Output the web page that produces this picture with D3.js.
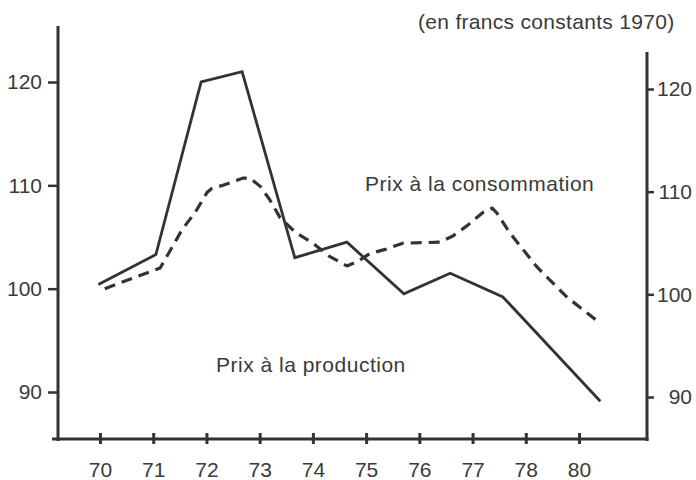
<!DOCTYPE html>
<html><head><meta charset="utf-8">
<script src="https://cdn.jsdelivr.net/npm/d3@7/dist/d3.min.js"></script>
<style>
html,body{margin:0;padding:0;background:#fff;}
text{font-family:"Liberation Sans",Arial,Helvetica,sans-serif;fill:#3a3a3a;}
</style></head>
<body><svg id="c" width="696" height="480"></svg>
<script>
// Category labels on the x axis (tick index 0..9)
const xLabels = ["70","71","72","73","74","75","76","77","78","80"];
const yTicks = [90,100,110,120];

// Prix à la production (solid) — x as fractional tick index, value in index points
const prodX = [-0.03, 1.05, 1.90, 2.67, 3.66, 4.64, 5.71, 6.58, 7.57, 9.40];
const prodY = [100.4, 103.3, 120.0, 121.0, 103.0, 104.5, 99.5, 101.5, 99.2, 89.1];

// Prix à la consommation (dashed)
const consX = [0.09, 1.13, 1.32, 1.54, 1.79, 2.01, 2.10, 2.31, 2.69, 2.82, 3.01, 3.19, 3.38, 3.66, 4.00, 4.32, 4.64, 4.83, 5.07, 5.36, 5.69, 6.39, 6.63, 6.90, 7.20, 7.37, 7.46, 7.70, 8.21, 8.77, 9.36];
const consY = [100.0, 102.0, 103.7, 105.7, 107.4, 109.3, 109.7, 110.0, 110.7, 110.7, 109.9, 108.6, 106.9, 105.5, 104.4, 103.1, 102.2, 102.6, 103.4, 103.8, 104.4, 104.5, 105.1, 106.1, 107.4, 107.8, 107.3, 105.4, 102.1, 99.2, 96.8];

const svg = d3.select("#c");
const ink = "#333";

const x = d3.scaleLinear().domain([0, 9]).range([100, 579]);
const yL = d3.scaleLinear().domain([90, 120]).range([392, 82]);
const yR = d3.scaleLinear().domain([90, 120]).range([397, 89]);

// Frame lines
svg.append("line").attr("x1",58).attr("x2",58).attr("y1",26).attr("y2",441)
  .attr("stroke",ink).attr("stroke-width",3);
svg.append("line").attr("x1",647).attr("x2",647).attr("y1",52).attr("y2",441)
  .attr("stroke",ink).attr("stroke-width",3);
svg.append("line").attr("x1",52).attr("x2",648.5).attr("y1",439).attr("y2",439)
  .attr("stroke",ink).attr("stroke-width",3);

function styleAxis(g){
  g.select(".domain").remove();
  g.selectAll(".tick line").attr("stroke",ink).attr("stroke-width",2.5);
  g.selectAll(".tick text").attr("font-size",21).attr("fill","#3a3a3a")
    .style("font-family",'"Liberation Sans",Arial,sans-serif');
}

// Left axis
const gL = svg.append("g").attr("transform","translate(58,0)")
  .call(d3.axisLeft(yL).tickValues(yTicks).tickSize(10).tickPadding(6).tickFormat(d3.format("d")));
styleAxis(gL);

// Right axis
const gR = svg.append("g").attr("transform","translate(647,0)")
  .call(d3.axisRight(yR).tickValues(yTicks).tickSize(7).tickFormat(d3.format("d")));
styleAxis(gR);
gR.selectAll(".tick text").attr("text-anchor","end").attr("x",45);

// Bottom axis
const gB = svg.append("g").attr("transform","translate(0,433)")
  .call(d3.axisBottom(x).tickValues(d3.range(xLabels.length)).tickSize(11).tickFormat(i => xLabels[i]));
styleAxis(gB);
gB.selectAll(".tick line").attr("stroke-width",3);
gB.selectAll(".tick text").attr("y",44).attr("dy",0);

// Lines
const prod = prodX.map((d,i)=>[d, prodY[i]]);
const cons = consX.map((d,i)=>[d, consY[i]]);
const line = d3.line().x(d=>x(d[0])).y(d=>yL(d[1]));

svg.append("path").attr("d", line(cons)).attr("fill","none")
  .attr("stroke",ink).attr("stroke-width",3.2).attr("stroke-dasharray","11,7")
  .attr("stroke-linejoin","round");
svg.append("path").attr("d", line(prod)).attr("fill","none")
  .attr("stroke",ink).attr("stroke-width",2.8).attr("stroke-linejoin","miter");

// Texts
svg.append("text").attr("x",418).attr("y",29).attr("font-size",21)
  .attr("letter-spacing",0.3).text("(en francs constants 1970)");
svg.append("text").attr("x",365).attr("y",191).attr("font-size",21)
  .attr("letter-spacing",0.5).text("Prix à la consommation");
svg.append("text").attr("x",216).attr("y",372).attr("font-size",21)
  .attr("letter-spacing",0.5).text("Prix à la production");
</script></body></html>
